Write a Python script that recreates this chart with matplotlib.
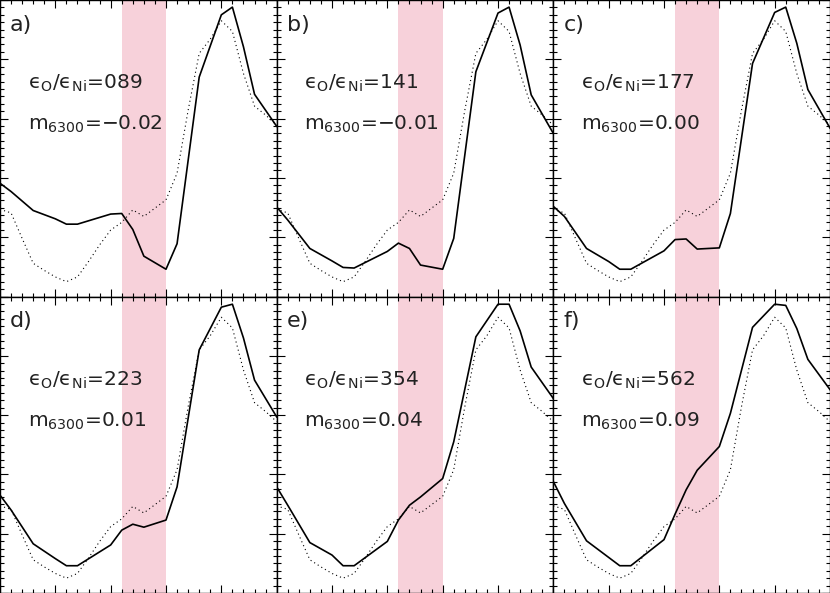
import matplotlib
matplotlib.use('Agg')
import matplotlib.pyplot as plt
from matplotlib.ticker import MultipleLocator

plt.rcParams['font.family'] = ['DejaVu Sans']
plt.rcParams['mathtext.fontset'] = 'dejavusans'

panel_labels = ['a)', 'b)', 'c)', 'd)', 'e)', 'f)']
ratio_labels = ['089', '141', '177', '223', '354', '562']
m6300_labels = ['\u22120.02', '\u22120.01', '0.00', '0.01', '0.04', '0.09']

model_x = [0, 0.2, 0.6, 1.0, 1.2, 1.4, 2.0, 2.2, 2.4, 2.6, 3.0, 3.2, 3.6, 4.0, 4.2, 4.4, 4.6, 5.0]
model_a = [1.91, 1.77, 1.45, 1.31, 1.22, 1.22, 1.39, 1.40, 1.13, 0.68, 0.46, 0.89, 3.70, 4.75, 4.88, 4.21, 3.41, 2.87]
model_b = [1.51, 1.29, 0.81, 0.60, 0.49, 0.48, 0.76, 0.90, 0.81, 0.53, 0.46, 0.98, 3.79, 4.78, 4.88, 4.24, 3.40, 2.75]
model_c = [1.52, 1.35, 0.81, 0.59, 0.46, 0.46, 0.77, 0.96, 0.97, 0.80, 0.82, 1.40, 3.93, 4.79, 4.88, 4.27, 3.49, 2.84]
model_d = [1.65, 1.40, 0.83, 0.58, 0.46, 0.46, 0.81, 1.06, 1.16, 1.11, 1.23, 1.79, 4.10, 4.82, 4.87, 4.30, 3.59, 2.97]
model_e = [1.79, 1.48, 0.85, 0.64, 0.46, 0.46, 0.87, 1.23, 1.48, 1.62, 1.93, 2.55, 4.32, 4.87, 4.87, 4.42, 3.81, 3.28]
model_f = [1.88, 1.51, 0.88, 0.60, 0.46, 0.46, 0.90, 1.33, 1.74, 2.07, 2.47, 3.03, 4.48, 4.87, 4.85, 4.46, 3.94, 3.43]
models = [model_a, model_b, model_c, model_d, model_e, model_f]

obs_x = [0.0, 0.2, 0.4, 0.6, 0.8, 1.0, 1.2, 1.4, 1.6, 1.8, 2.0, 2.2, 2.4, 2.6, 2.8,
         3.0, 3.2, 3.4, 3.6, 3.8, 4.0, 4.2, 4.4, 4.6, 4.8, 5.0]
obs_y = [1.47, 1.41, 0.98, 0.56, 0.44, 0.33, 0.25, 0.33, 0.59, 0.87, 1.12, 1.25, 1.46,
         1.35, 1.49, 1.63, 2.08, 3.14, 4.10, 4.34, 4.65, 4.47, 3.76, 3.21, 3.06, 2.89]

band_lo, band_hi = 2.2, 3.0

fig = plt.figure(figsize=(8.30, 5.93), dpi=100)
for i in range(6):
    r, c = divmod(i, 3)
    ax = fig.add_axes([c / 3, 1 - (r + 1) / 2, 1 / 3, 1 / 2])
    ax.set_xlim(0, 5)
    ax.set_ylim(0, 5)
    ax.axvspan(band_lo, band_hi, color='#f7d1da', lw=0, zorder=0)
    ax.plot(obs_x, obs_y, color='black', lw=0.8, ls=(0, (1, 2.8)))
    ax.plot(model_x, models[i], color='black', lw=1.2)
    ax.xaxis.set_major_locator(MultipleLocator(1))
    ax.xaxis.set_minor_locator(MultipleLocator(0.2))
    ax.yaxis.set_major_locator(MultipleLocator(1))
    ax.yaxis.set_minor_locator(MultipleLocator(0.125))
    ax.tick_params(which='both', direction='in', top=True, right=True,
                   labelbottom=False, labelleft=False, width=0.8, color='black')
    ax.tick_params(which='major', length=6)
    ax.tick_params(which='minor', length=3)
    for s in ax.spines.values():
        s.set_linewidth(1.0)
    ax.text(0.18, 4.48, panel_labels[i], fontsize=16, color='#222222', va='baseline')
    ax.text(0.5, 3.5, '\u03f5$_{\\mathrm{O}}$/\u03f5$_{\\mathrm{Ni}}$=' + ratio_labels[i],
            fontsize=14.5, color='#222222', va='baseline')
    ax.text(0.5, 2.81, 'm$_{\\mathrm{6300}}$=' + m6300_labels[i],
            fontsize=14.5, color='#222222', va='baseline')

fig.savefig('out.png', dpi=100)
